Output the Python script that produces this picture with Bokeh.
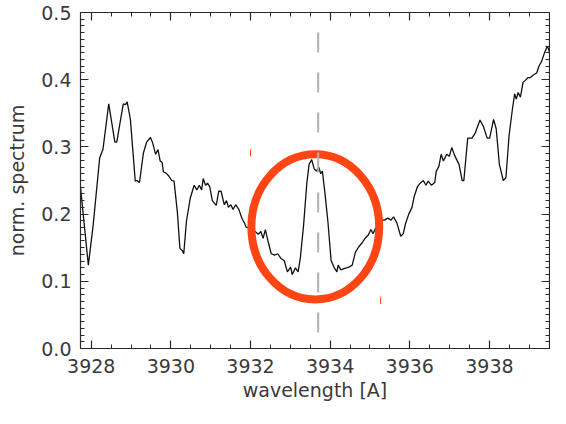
from bokeh.plotting import figure
from bokeh.models import Range1d, LinearAxis, SingleIntervalTicker, PrintfTickFormatter, Span, CustomJSTickFormatter
from bokeh.embed import file_html
from bokeh.resources import INLINE

# ---- data ----
wavelength = [3927.732, 3927.927, 3928.049, 3928.212, 3928.293, 3928.439, 3928.593, 3928.641, 3928.724, 3928.805,
              3928.861, 3928.902, 3928.983, 3929.105, 3929.146, 3929.212, 3929.310, 3929.390, 3929.488, 3929.537,
              3929.617, 3929.676, 3929.732, 3929.780, 3929.812, 3929.878, 3929.944, 3930.024, 3930.080, 3930.163,
              3930.227, 3930.285, 3930.324, 3930.390, 3930.488, 3930.585, 3930.651, 3930.715, 3930.773, 3930.812,
              3930.871, 3930.920, 3930.976, 3931.041, 3931.139, 3931.202, 3931.261, 3931.341, 3931.398, 3931.446,
              3931.505, 3931.561, 3931.627, 3931.707, 3931.788, 3931.854, 3931.885, 3931.951, 3932.032, 3932.115,
              3932.195, 3932.261, 3932.317, 3932.373, 3932.439, 3932.520, 3932.602, 3932.683, 3932.763, 3932.846,
              3932.927, 3933.007, 3933.049, 3933.129, 3933.195, 3933.251, 3933.334, 3933.415, 3933.471, 3933.537,
              3933.602, 3933.659, 3933.715, 3933.763, 3933.805, 3933.861, 3933.944, 3934.024, 3934.105, 3934.171,
              3934.202, 3934.268, 3934.349, 3934.471, 3934.554, 3934.634, 3934.715, 3934.798, 3934.878, 3934.959,
              3935.024, 3935.080, 3935.146, 3935.293, 3935.366, 3935.446, 3935.529, 3935.593, 3935.676, 3935.773,
              3935.837, 3935.895, 3935.976, 3936.056, 3936.115, 3936.195, 3936.261, 3936.341, 3936.407, 3936.463,
              3936.544, 3936.627, 3936.666, 3936.732, 3936.788, 3936.846, 3936.927, 3936.993, 3937.056, 3937.129,
              3937.237, 3937.317, 3937.359, 3937.456, 3937.561, 3937.641, 3937.763, 3937.846, 3937.944, 3938.007,
              3938.105, 3938.171, 3938.251, 3938.349, 3938.415, 3938.495, 3938.578, 3938.634, 3938.676, 3938.724,
              3938.780, 3938.846, 3938.902, 3938.968, 3939.024, 3939.105, 3939.188, 3939.244, 3939.310, 3939.390,
              3939.456, 3939.512]

norm_spectrum = [0.239, 0.124, 0.184, 0.284, 0.296, 0.364, 0.307, 0.307, 0.336, 0.364,
                 0.363, 0.367, 0.341, 0.249, 0.250, 0.247, 0.291, 0.307, 0.314, 0.307,
                 0.289, 0.296, 0.279, 0.277, 0.263, 0.261, 0.257, 0.250, 0.249, 0.203,
                 0.149, 0.146, 0.141, 0.189, 0.224, 0.243, 0.236, 0.243, 0.236, 0.253,
                 0.243, 0.246, 0.241, 0.220, 0.213, 0.234, 0.234, 0.214, 0.220, 0.210,
                 0.214, 0.207, 0.214, 0.207, 0.193, 0.186, 0.181, 0.179, 0.177, 0.174,
                 0.170, 0.174, 0.164, 0.177, 0.160, 0.141, 0.139, 0.141, 0.134, 0.131,
                 0.114, 0.121, 0.110, 0.120, 0.114, 0.134, 0.184, 0.246, 0.274, 0.281,
                 0.267, 0.264, 0.270, 0.260, 0.264, 0.236, 0.189, 0.131, 0.120, 0.114,
                 0.124, 0.117, 0.119, 0.121, 0.124, 0.143, 0.151, 0.157, 0.164, 0.169,
                 0.177, 0.171, 0.180, 0.191, 0.191, 0.194, 0.191, 0.196, 0.187, 0.167,
                 0.171, 0.186, 0.200, 0.210, 0.227, 0.241, 0.246, 0.250, 0.243, 0.249,
                 0.243, 0.247, 0.264, 0.271, 0.289, 0.279, 0.289, 0.286, 0.299, 0.287,
                 0.274, 0.250, 0.250, 0.313, 0.313, 0.320, 0.340, 0.331, 0.313, 0.313,
                 0.341, 0.327, 0.274, 0.250, 0.254, 0.317, 0.356, 0.379, 0.371, 0.381,
                 0.374, 0.396, 0.399, 0.403, 0.403, 0.407, 0.410, 0.420, 0.427, 0.441,
                 0.450, 0.441]

x_min, x_max = 3927.73, 3939.51
y_min, y_max = 0.0, 0.5
line_centre = 3933.70            # dashed reference line (Ca II K)
circle_x, circle_y = 3933.627, 0.181
circle_w, circle_h = 3.21, 0.216
mark_x = [3932.0, 3935.27]
mark_y0 = [0.286, 0.066]
mark_y1 = [0.296, 0.077]

FONT = "DejaVu Sans"
AX = "#2a2a2a"
TXT = "#3a3a3a"

p = figure(width=550, height=408,
           x_range=Range1d(x_min, x_max), y_range=Range1d(y_min, y_max),
           output_backend="svg", toolbar_location=None,
           min_border_left=80, min_border_right=1, min_border_top=12, min_border_bottom=60,
           x_axis_label="wavelength [A]", y_axis_label="norm. spectrum")
p.grid.visible = False
p.outline_line_color = AX
p.background_fill_color = "white"
p.border_fill_color = "white"

def style(ax, labels=True):
    ax.major_tick_in = 8
    ax.major_tick_out = 0
    ax.minor_tick_in = 4
    ax.minor_tick_out = 0
    ax.axis_line_color = AX
    ax.major_tick_line_color = AX
    ax.minor_tick_line_color = AX
    ax.axis_line_width = 1.2
    ax.major_tick_line_width = 1.2
    ax.minor_tick_line_width = 1.0
    if labels:
        ax.major_label_text_font = FONT
        ax.major_label_text_font_size = "19px"
        ax.major_label_text_color = TXT
        ax.axis_label_text_font = FONT
        ax.axis_label_text_font_size = "19px"
        ax.axis_label_text_font_style = "normal"
        ax.axis_label_text_color = TXT
    else:
        ax.formatter = CustomJSTickFormatter(code="return ''")
        ax.major_label_standoff = 0

xa = p.xaxis[0]
xa.ticker = SingleIntervalTicker(interval=2, num_minor_ticks=4)
style(xa)
xa.major_label_standoff = 10
xa.axis_label_standoff = 3

ya = p.yaxis[0]
ya.ticker = SingleIntervalTicker(interval=0.1, num_minor_ticks=10)
ya.formatter = PrintfTickFormatter(format="%.1f")
style(ya)
ya.major_label_standoff = 9
ya.axis_label_standoff = 10

top = LinearAxis(ticker=SingleIntervalTicker(interval=2, num_minor_ticks=4))
style(top, labels=False)
p.add_layout(top, "above")
right = LinearAxis(ticker=SingleIntervalTicker(interval=0.1, num_minor_ticks=10))
style(right, labels=False)
p.add_layout(right, "right")

# dashed vertical reference line
p.add_layout(Span(location=line_centre, dimension="height", line_color="#b0b0b0",
                  line_width=2, line_dash="20 20", line_dash_offset=20))

# spectrum
p.line(wavelength, norm_spectrum, line_color="#111111", line_width=1.3)

# small red marks
p.segment(x0=mark_x, y0=mark_y0, x1=mark_x, y1=mark_y1, line_color="#ff4513", line_width=1)

# highlight ellipse
p.ellipse(x=[circle_x], y=[circle_y], width=circle_w, height=circle_h,
          fill_color=None, line_color="#ff4513", line_width=8)

open("out.html", "w").write(file_html(p, INLINE))
